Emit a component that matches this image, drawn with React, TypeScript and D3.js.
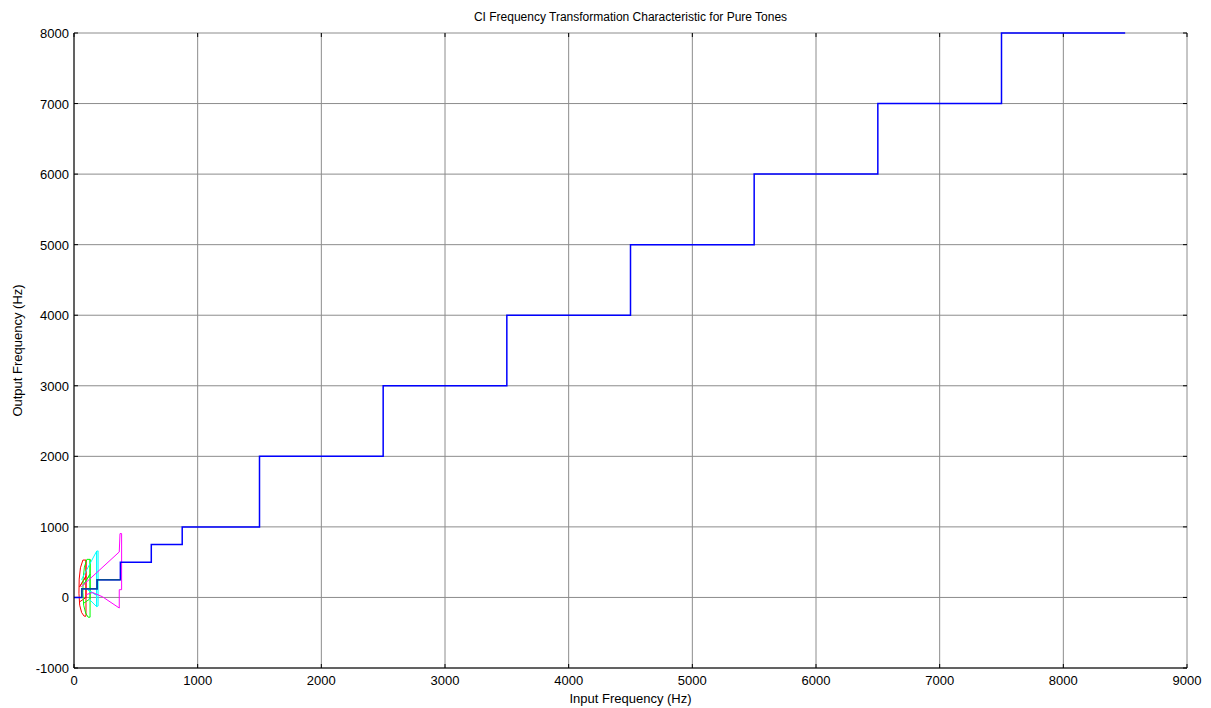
import React from "react";
import * as d3 from "d3";

// Staircase (blue): input-frequency breakpoints and output levels
const stepInput = [0, 62.5, 187.5, 375, 625, 875, 1500, 2500, 3500, 4500, 5500, 6500, 7500, 8500];
const stepOutput = [0, 125, 250, 500, 750, 1000, 2000, 3000, 4000, 5000, 6000, 7000, 8000];

// Low-frequency traces [input Hz, output Hz]
const redTrace: [number, number][] = [
  [97, 530], [72, 530], [52, 420], [42, 260], [40, 60], [46, -110], [62, -215], [82, -265], [97, -265], [97, 530],
  [97, 300], [45, 150], [97, 300], [97, 0], [48, -60],
];
const greenTrace: [number, number][] = [
  [130, 540], [104, 540], [84, 430], [74, 270], [72, 70], [78, -110], [94, -220], [114, -280], [130, -280], [130, 540],
  [130, 330], [78, 180], [130, 330], [130, -20], [80, -80],
];
const cyanTrace: [number, number][] = [
  [60, 250], [183, 655], [195, 660], [195, -120], [183, -130], [183, 655],
  [183, 30], [110, 110], [183, 30], [183, -130], [120, -20],
];
const magentaTrace: [number, number][] = [
  [58, 150], [366, 645], [372, 905], [385, 905], [385, 110], [366, 110], [366, -150],
  [230, 10], [150, 70], [100, 40],
];
const darkTrace: [number, number][] = [
  [62.5, 0], [62.5, 125], [187.5, 125], [187.5, 250], [375, 250],
];

const xTicks = [0, 1000, 2000, 3000, 4000, 5000, 6000, 7000, 8000, 9000];
const yTicks = [-1000, 0, 1000, 2000, 3000, 4000, 5000, 6000, 7000, 8000];

const titleText = "CI Frequency Transformation Characteristic for Pure Tones";
const xLabel = "Input Frequency (Hz)";
const yLabel = "Output Frequency (Hz)";

export default function App() {
  const W = 1211, H = 708;
  const left = 74, right = 1187, top = 33, bottom = 668;
  const x = d3.scaleLinear().domain([0, 9000]).range([left, right]);
  const y = d3.scaleLinear().domain([-1000, 8000]).range([bottom, top]);

  const stairs: [number, number][] = [];
  for (let i = 0; i < stepOutput.length; i++) {
    stairs.push([stepInput[i], stepOutput[i]]);
    stairs.push([stepInput[i + 1], stepOutput[i]]);
  }
  const line = d3.line<[number, number]>().x((d) => x(d[0])).y((d) => y(d[1]));
  const font = "'Liberation Sans', Arial, sans-serif";
  const tl = 4;

  return (
    <svg width={W} height={H} style={{ position: "absolute", left: 0, top: 0, background: "#fff" }} fontFamily={font}>
      <rect x={0} y={0} width={W} height={H} fill="#fff" />
      {/* grid */}
      {xTicks.map((t) => (
        <line key={"gx" + t} x1={x(t)} x2={x(t)} y1={top} y2={bottom} stroke="#8c8c8c" strokeWidth={1} />
      ))}
      {yTicks.map((t) => (
        <line key={"gy" + t} x1={left} x2={right} y1={y(t)} y2={y(t)} stroke="#8c8c8c" strokeWidth={1} />
      ))}
      {/* ticks */}
      {xTicks.map((t) => (
        <g key={"tx" + t}>
          <line x1={x(t)} x2={x(t)} y1={bottom} y2={bottom - tl} stroke="#000" />
          <line x1={x(t)} x2={x(t)} y1={top} y2={top + tl} stroke="#000" />
        </g>
      ))}
      {yTicks.map((t) => (
        <g key={"ty" + t}>
          <line x1={left} x2={left + tl} y1={y(t)} y2={y(t)} stroke="#000" />
          <line x1={right} x2={right - tl} y1={y(t)} y2={y(t)} stroke="#000" />
        </g>
      ))}
      {/* traces */}
      <path d={line(redTrace) || ""} fill="none" stroke="#ff0000" strokeWidth={1} />
      <path d={line(greenTrace) || ""} fill="none" stroke="#00ff00" strokeWidth={1} />
      <path d={line(cyanTrace) || ""} fill="none" stroke="#00ffff" strokeWidth={1} />
      <path d={line(magentaTrace) || ""} fill="none" stroke="#ff00ff" strokeWidth={1} />
      <path d={line(stairs) || ""} fill="none" stroke="#0000ff" strokeWidth={1.5} />
      <path d={line(darkTrace) || ""} fill="none" stroke="#0a4a9a" strokeWidth={1.5} />
      {/* axes */}
      <line x1={left} x2={left} y1={top} y2={bottom} stroke="#000" />
      <line x1={left} x2={right} y1={bottom} y2={bottom} stroke="#000" />
      {/* tick labels */}
      {xTicks.map((t) => (
        <text key={"lx" + t} x={x(t)} y={bottom + 17} textAnchor="middle" fontSize={13}>{t}</text>
      ))}
      {yTicks.map((t) => (
        <text key={"ly" + t} x={left - 5} y={y(t) + 5} textAnchor="end" fontSize={13}>{t}</text>
      ))}
      <text x={(left + right) / 2} y={21} textAnchor="middle" fontSize={12}>{titleText}</text>
      <text x={(left + right) / 2} y={703} textAnchor="middle" fontSize={13}>{xLabel}</text>
      <text transform={`translate(22, ${(top + bottom) / 2}) rotate(-90)`} textAnchor="middle" fontSize={13}>{yLabel}</text>
    </svg>
  );
}
